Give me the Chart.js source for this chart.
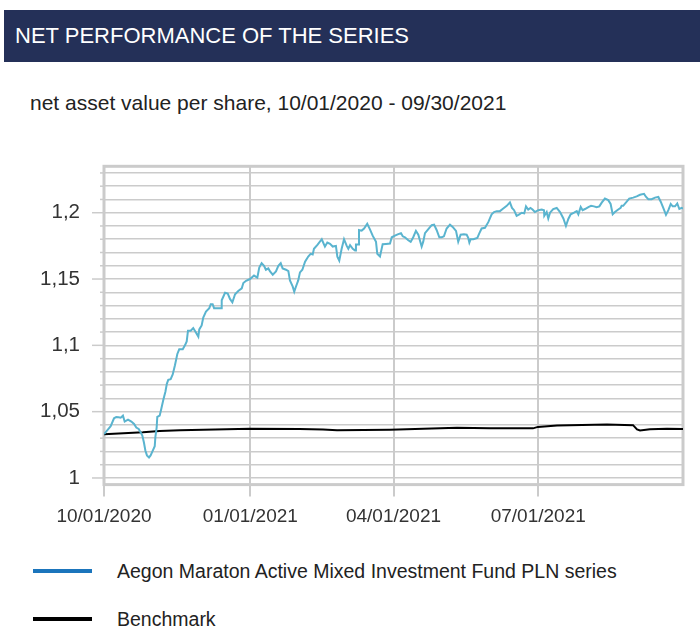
<!DOCTYPE html>
<html><head><meta charset="utf-8">
<script src="https://cdn.jsdelivr.net/npm/chart.js@4.4.1/dist/chart.umd.min.js"></script>
<style>
body{margin:0;width:700px;height:626px;position:relative;background:#fff;font-family:'Liberation Sans',Arial,sans-serif;overflow:hidden}
#hdr{position:absolute;left:4px;top:10px;width:696px;height:52px;background:#243058;color:#fff;font-size:22px;line-height:52px;padding-left:11px;box-sizing:border-box;white-space:nowrap}
#sub{position:absolute;left:30px;top:90px;font-size:21px;color:#222;line-height:26px;white-space:nowrap}
#wrap{position:absolute;left:0;top:130px;width:700px;height:410px}
.leg{position:absolute;left:33px;width:650px;font-size:19.5px;color:#222;height:26px;line-height:26px}
.leg .l{position:absolute;left:0;top:11px;width:59px;height:4px}
.leg .t{position:absolute;left:84px;white-space:nowrap}
</style></head>
<body>
<div id="hdr">NET PERFORMANCE OF THE SERIES</div>
<div id="sub">net asset value per share, 10/01/2020 - 09/30/2021</div>
<div id="wrap"><canvas id="c" width="700" height="410"></canvas></div>
<div class="leg" style="top:558px"><span class="l" style="background:#1b75bc"></span><span class="t" id="leg0"></span></div>
<div class="leg" style="top:606px"><span class="l" style="background:#000"></span><span class="t" id="leg1"></span></div>
<script>
// ---- data (days since 10/01/2020, NAV per share) ----
const seriesNames = ['Aegon Maraton Active Mixed Investment Fund PLN series', 'Benchmark'];
const xTickDays = [0, 92, 182, 273];
const xTickLabels = ['10/01/2020', '01/01/2021', '04/01/2021', '07/01/2021'];
const xMaxDay = 364;
const yMin = 0.995, yMax = 1.235;

const fundDays = [0,4.2,6.3,7.7,9.2,10.5,11.9,13,15.1,17.2,18.9,20.3,21.8,23,24.1,25.1,26,27,28.3,29.3,30.8,31.9,32.3,33.1,33.5,35,36,37.3,38.6,39.5,40.4,41.9,43.2,44.6,46.1,47.3,49.5,50.9,52,52.8,54.5,56.1,57.6,59.3,59.9,61.4,62.4,64.1,66.2,67.1,68.3,69.2,73.6,74,76.1,77.8,79.2,80.7,82.4,84.4,86.6,87.6,89.3,91.8,94.3,96.4,97.6,99.1,100.6,101.8,103.3,104.4,106.1,108.1,109.6,111.1,112.3,114.4,115.9,116.9,118.6,119.6,120.7,122.1,123.2,124.7,126.4,128.4,129.9,131.2,132,134.3,136.9,138.9,140.4,142.1,143.8,145.8,146.7,147.9,149.4,150.9,152.6,153.6,154.7,156.4,157.8,158.4,159.9,160.3,162,163.5,165.5,167.2,168.9,171,171.8,173.5,175.2,177.3,179.8,180.9,182.9,185,186.7,187.8,189.2,191.3,192.8,194.4,196.1,197.6,199.7,200.7,201.8,203.9,206,207.5,209.1,210.8,212.3,213.7,215.4,217.5,219.2,221.3,222.7,224.2,226.3,228,229,229.7,230.5,232.2,234.7,236,237.4,239.5,241.6,243.7,245.2,246.9,248.9,250.6,253.2,255.2,256.5,257.8,259.4,261.1,262.6,264.2,265.3,266.7,268.1,269.4,270.9,273,275.2,276.6,276.8,278.3,279.3,280.4,282.4,284.6,286.7,288.8,290.4,291.9,293.4,295.5,297.2,298.2,299.7,300.9,302.4,304.5,306.2,308,309.7,311.4,312.9,314.9,317,318.5,319.8,321.2,323.3,324.8,325.4,326.4,328.6,330.2,332.7,334.9,337,339.5,340.8,342.2,344.3,346.4,348.5,350,351.6,353.3,354.8,356.3,357.5,359,360.4,361.7,363.2,364];
const fundValues = [1.033,1.039,1.045,1.046,1.0458,1.0455,1.047,1.0425,1.044,1.0425,1.0407,1.038,1.037,1.0345,1.032,1.0267,1.0207,1.017,1.0155,1.017,1.021,1.024,1.031,1.038,1.046,1.047,1.052,1.059,1.065,1.071,1.074,1.0745,1.078,1.085,1.0935,1.097,1.097,1.100,1.103,1.111,1.111,1.113,1.110,1.1065,1.112,1.115,1.121,1.1255,1.128,1.131,1.131,1.128,1.128,1.134,1.1396,1.139,1.135,1.1325,1.1385,1.141,1.143,1.147,1.1487,1.150,1.1526,1.151,1.1586,1.162,1.160,1.157,1.158,1.1557,1.1533,1.1557,1.160,1.162,1.158,1.157,1.156,1.149,1.1444,1.1405,1.1444,1.149,1.155,1.157,1.163,1.167,1.169,1.1685,1.1728,1.176,1.180,1.1745,1.1775,1.1765,1.1745,1.175,1.1668,1.1638,1.1728,1.180,1.175,1.1728,1.1756,1.1728,1.1716,1.176,1.176,1.187,1.1865,1.188,1.1917,1.1874,1.1827,1.178,1.169,1.167,1.1763,1.1765,1.1768,1.1815,1.1827,1.1839,1.1846,1.1822,1.1815,1.1792,1.178,1.1815,1.1863,1.1834,1.1745,1.1782,1.1846,1.1877,1.1906,1.191,1.187,1.1815,1.1815,1.1822,1.1881,1.191,1.1893,1.1863,1.1782,1.1834,1.1837,1.1834,1.181,1.1775,1.180,1.180,1.181,1.1846,1.1881,1.1886,1.1929,1.1988,1.2005,1.2012,1.2012,1.2028,1.2052,1.2078,1.2036,1.2019,1.1977,1.1988,1.2,1.1995,1.2048,1.2024,1.2036,1.2024,1.2005,1.2019,1.2024,1.2019,1.1977,1.2005,1.1957,1.2,1.2028,1.2036,1.2005,1.1957,1.19,1.1953,1.1988,1.2,1.2012,1.1988,1.2043,1.2019,1.2028,1.2043,1.2052,1.2048,1.2041,1.2048,1.2076,1.2107,1.2095,1.2066,1.1988,1.2005,1.2024,1.2036,1.2052,1.2052,1.2083,1.2107,1.2114,1.2123,1.2135,1.2142,1.2119,1.2102,1.2102,1.2114,1.2119,1.2083,1.2036,1.1984,1.2019,1.2066,1.2048,1.2048,1.207,1.2028,1.2036,1.203];

const benchDays = [0,24.5,35,47.8,91.8,123,137.7,146.5,179.8,221.9,242.7,269.7,272.8,284.8,316.2,332.6,335.1,337,343.2,353.9,364];
const benchValues = [1.033,1.0345,1.0355,1.036,1.0371,1.037,1.0366,1.0359,1.0364,1.0379,1.0374,1.0374,1.0385,1.0395,1.0403,1.0398,1.0366,1.0358,1.0368,1.0371,1.0369];

// ---- helpers ----
const yGrid = [];
for (let i = 100; i <= 123; i++) yGrid.push(i / 100);
const isMajor = v => Math.abs(Math.round(v * 20) - v * 20) < 1e-6;
const fmt = v => String(Math.round(v * 100) / 100).replace('.', ',');

document.getElementById('leg0').textContent = seriesNames[0];
document.getElementById('leg1').textContent = seriesNames[1];

const GRID = '#cbcbcb';
const frame = {
  id: 'frame',
  beforeDatasetsDraw(chart) {
    const {ctx, chartArea: a, scales: {y}} = chart;
    ctx.save();
    ctx.strokeStyle = GRID;
    ctx.lineWidth = 1.5;
    yGrid.forEach(v => {
      const p = y.getPixelForValue(v);
      ctx.beginPath();
      ctx.moveTo(a.left - (isMajor(v) ? 12 : 4), p);
      ctx.lineTo(a.left, p);
      ctx.stroke();
    });
    ctx.lineWidth = 3;
    ctx.strokeRect(a.left, a.top, a.right - a.left, a.bottom - a.top);
    ctx.restore();
  }
};

const FONT = "'Liberation Sans', Arial, sans-serif";
new Chart(document.getElementById('c'), {
  type: 'line',
  data: {
    datasets: [
      { label: seriesNames[0], data: fundDays.map((d, i) => ({x: d, y: fundValues[i]})),
        borderColor: '#5ab4cf', borderWidth: 2, pointRadius: 0, tension: 0 },
      { label: seriesNames[1], data: benchDays.map((d, i) => ({x: d, y: benchValues[i]})),
        borderColor: '#000000', borderWidth: 2, pointRadius: 0, tension: 0 }
    ]
  },
  options: {
    responsive: false, animation: false, devicePixelRatio: 1,
    layout: { padding: { top: 17, right: 17, left: 0, bottom: 0 } },
    plugins: { legend: { display: false }, tooltip: { enabled: false } },
    scales: {
      x: {
        type: 'linear', min: 0, max: xMaxDay,
        afterBuildTicks: s => { s.ticks = xTickDays.map(v => ({value: v})); },
        afterFit: s => { s.height = 55.4; },
        border: { display: false },
        grid: { color: GRID, lineWidth: 2, drawTicks: true, tickLength: 12, tickColor: GRID, tickWidth: 2 },
        ticks: { padding: 9, color: '#333', font: { family: FONT, size: 19 }, maxRotation: 0,
          callback: v => { const i = xTickDays.indexOf(v); return i >= 0 ? xTickLabels[i] : ''; } }
      },
      y: {
        min: yMin, max: yMax,
        afterBuildTicks: s => { s.ticks = yGrid.map(v => ({value: v})); },
        afterFit: s => { s.width = 104; },
        border: { display: false },
        grid: { color: GRID, lineWidth: 1.5, drawTicks: false },
        ticks: { padding: 24, color: '#333', font: { family: FONT, size: 20.5 }, autoSkip: false,
          callback: v => isMajor(v) ? fmt(v) : '' }
      }
    }
  },
  plugins: [frame]
});
</script>
</body></html>
